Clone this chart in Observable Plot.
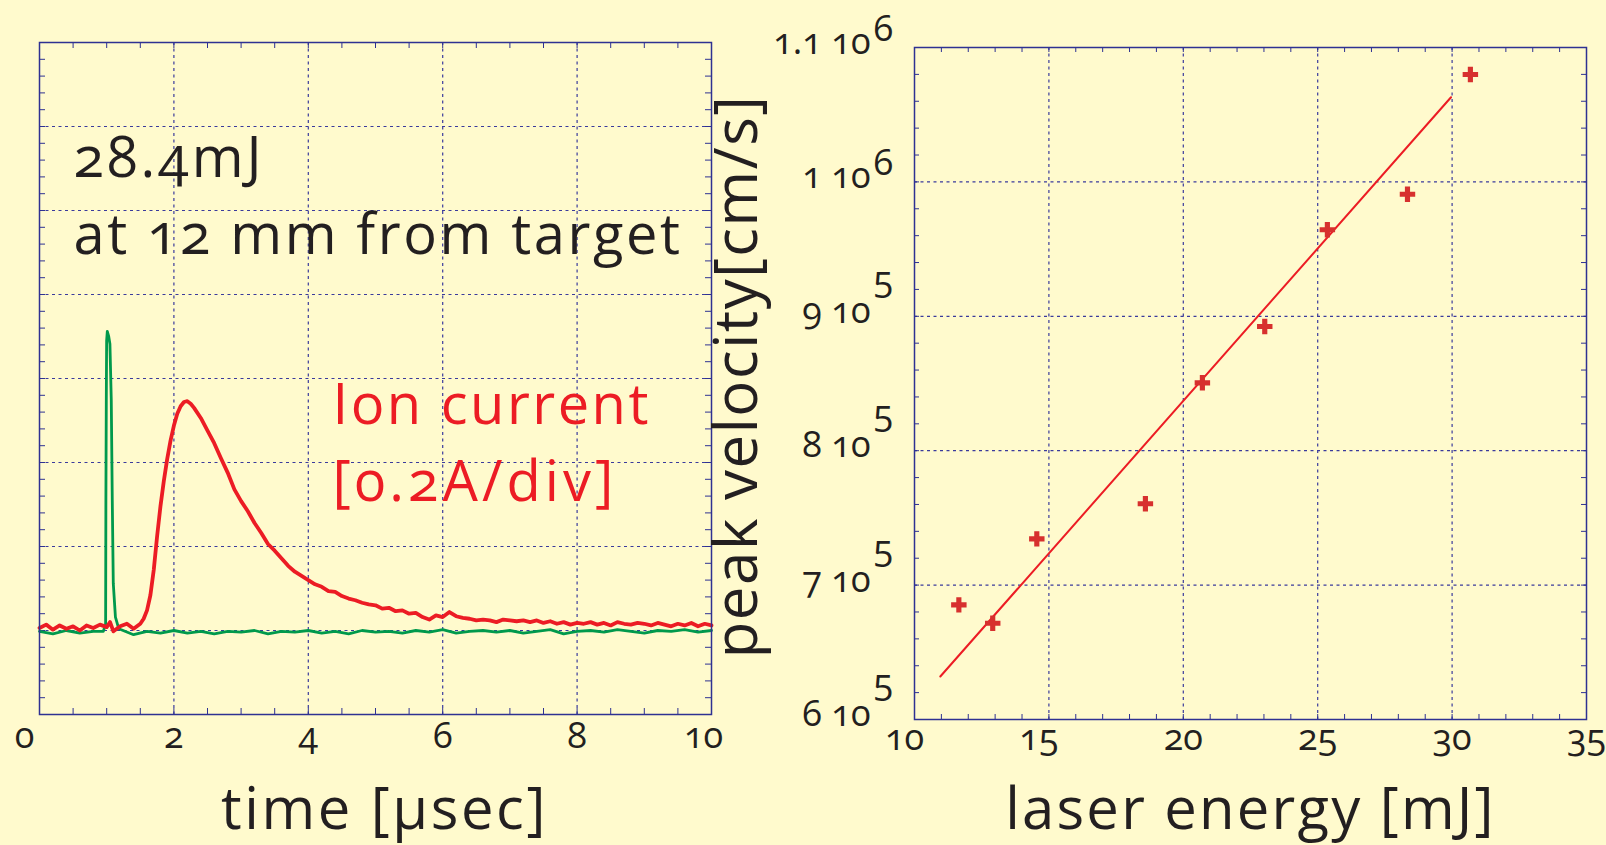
<!DOCTYPE html>
<html>
<head>
<meta charset="utf-8">
<script src="https://cdn.jsdelivr.net/npm/d3@7"></script>
<script src="https://cdn.jsdelivr.net/npm/@observablehq/plot@0.6"></script>
<style>
  html, body { margin: 0; padding: 0; background: #fffacd; }
  #wrap { position: relative; width: 1606px; height: 845px; overflow: hidden; background: #fffacd; }
  #wrap svg { position: absolute; top: 0; overflow: visible; }
</style>
</head>
<body>
<div id="wrap"></div>
<script>
// ---------- data: left panel (oscilloscope traces, in vertical divisions) ----------
const ionTime = [0.0,0.1,0.2,0.3,0.4,0.5,0.6,0.7,0.8,0.9,1.0,1.05,1.1,1.2,1.3,1.4,1.5,
  1.55,1.6,1.65,1.7,1.75,1.8,1.85,1.9,1.95,2.0,2.05,2.1,2.15,2.2,2.25,2.3,2.4,2.5,2.6,2.7,2.8,2.9,
  3.0,3.1,3.2,3.3,3.4,3.5,3.6,3.7,3.8,3.9,
  4.0,4.1,4.2,4.3,4.4,4.5,4.6,4.7,4.8,4.9,5.0,5.1,5.2,5.3,5.4,5.5,5.6,5.7,5.8,5.9,
  6.0,6.1,6.2,6.3,6.4,6.5,6.6,6.7,6.8,6.9,7.0,7.1,7.2,7.3,7.4,7.5,7.6,7.7,7.8,7.9,
  8.0,8.1,8.2,8.3,8.4,8.5,8.6,8.7,8.8,8.9,9.0,9.1,9.2,9.3,9.4,9.5,9.6,9.7,9.8,9.9,10.0];
const ionSignal = [1.03,1.07,1.01,1.06,1.02,1.05,1.00,1.06,1.03,1.07,1.04,1.10,0.99,1.05,1.08,1.02,1.08,
  1.14,1.24,1.42,1.72,2.12,2.48,2.78,3.04,3.26,3.44,3.58,3.67,3.72,3.73,3.70,3.65,3.53,3.38,3.23,3.05,2.88,2.68,
  2.54,2.42,2.28,2.16,2.03,1.95,1.86,1.77,1.70,1.65,
  1.60,1.55,1.52,1.47,1.46,1.41,1.38,1.36,1.33,1.31,1.30,1.26,1.27,1.23,1.24,1.20,1.21,1.16,1.13,1.18,
  1.16,1.22,1.17,1.15,1.14,1.12,1.13,1.12,1.10,1.13,1.12,1.11,1.12,1.10,1.12,1.09,1.11,1.08,1.10,1.07,
  1.09,1.08,1.10,1.07,1.09,1.06,1.10,1.08,1.07,1.09,1.08,1.06,1.09,1.07,1.05,1.08,1.06,1.09,1.05,1.08,1.06];
const laserTime = [0.0,0.2,0.4,0.6,0.8,0.95,0.984,0.988,0.994,0.999,1.009,1.03,1.048,1.068,1.083,1.098,1.13,1.18,
  1.4,1.6,1.8,2.0,2.2,2.4,2.6,2.8,3.0,3.2,3.4,3.6,3.8,4.0,4.2,4.4,4.6,4.8,5.0,5.2,5.4,5.6,5.8,6.0,
  6.2,6.4,6.6,6.8,7.0,7.2,7.4,7.6,7.8,8.0,8.2,8.4,8.6,8.8,9.0,9.2,9.4,9.6,9.8,10.0];
const laserSignal = [0.99,0.96,1.00,0.97,0.99,0.99,1.08,2.55,3.74,4.45,4.56,4.50,4.41,3.74,2.55,1.56,1.16,1.02,
  0.95,0.99,0.97,1.00,0.97,0.99,0.96,0.99,0.98,1.00,0.96,0.99,0.98,1.00,0.97,0.99,0.96,1.00,0.98,0.99,0.97,1.00,0.98,1.01,
  0.97,0.99,1.00,0.98,1.00,0.97,0.99,1.01,0.96,0.99,1.00,0.98,1.01,0.99,0.97,1.00,0.99,1.01,0.98,1.00];
const timeTicks = [0, 2, 4, 6, 8, 10];
const divisionLines = [1, 2, 3, 4, 5, 6, 7];

// ---------- data: right panel (peak velocity vs laser energy) ----------
const energyMJ = [11.65, 12.91, 14.55, 18.59, 20.71, 23.03, 25.36, 28.34, 30.68];
const peakVelocity = [685300, 671600, 734400, 760500, 850500, 892400, 964400, 990800, 1079900];
const fitEnergy = [10.96, 29.96];
const fitVelocity = [632000, 1063000];
const energyTicks = [10, 15, 20, 25, 30, 35];
const velocityTicks = [600000, 700000, 800000, 900000, 1000000, 1100000];
const velocityMantissa = ["6 10", "7 10", "8 10", "9 10", "1 10", "1.1 10"];
const velocityExponent = ["5", "5", "5", "5", "6", "6"];

// ---------- styling ----------
const BLUE = "#2e3192";
const GRID = "#3a3a9c";
const INK = "#231f20";
const RED = "#ec1c24";
const GREEN = "#00994c";
const FONT = "'Open Sans', 'Noto Sans', sans-serif";
const FRAME = 672;
const TICK = 6;
const dotted = {stroke: GRID, strokeWidth: 1.2, strokeDasharray: "3,3.5"};
const tickText = {fontSize: 36, fill: INK, fontVariant: "oldstyle-nums"};
const bigText = {text: d => d, frameAnchor: "top-left", textAnchor: "start", lineAnchor: "bottom", fontSize: 56};

const leftPlot = Plot.plot({
  width: 712, height: 845,
  marginLeft: 39, marginRight: 1, marginTop: 42, marginBottom: 131,
  style: {background: "transparent", fontFamily: FONT, color: INK, overflow: "visible"},
  x: {domain: [0, 10]},
  y: {domain: [0, 8], axis: null},
  marks: [
    Plot.ruleX(timeTicks.slice(1, -1), dotted),
    Plot.ruleY(divisionLines, dotted),
    Plot.tickX(d3.range(0, 10.001, 0.5), {x: d => d, stroke: BLUE, insetTop: FRAME - TICK}),
    Plot.tickX(d3.range(0, 10.001, 0.5), {x: d => d, stroke: BLUE, insetBottom: FRAME - TICK}),
    Plot.tickY(d3.range(0, 8.001, 0.2), {y: d => d, stroke: BLUE, insetRight: FRAME - TICK}),
    Plot.tickY(d3.range(0, 8.001, 0.2), {y: d => d, stroke: BLUE, insetLeft: FRAME - TICK}),
    Plot.line(laserTime, {x: d => d, y: (d, i) => laserSignal[i], stroke: GREEN, strokeWidth: 2.8}),
    Plot.line(ionTime, {x: d => d, y: (d, i) => ionSignal[i], stroke: RED, strokeWidth: 3.8}),
    Plot.frame({stroke: BLUE, strokeWidth: 1.5}),
    Plot.axisX(timeTicks.slice(1, -1), {tickSize: 0, tickPadding: 8, label: null, ...tickText}),
    Plot.text(timeTicks.slice(0, 1), {x: d => d, frameAnchor: "bottom", lineAnchor: "top", dx: -15, dy: 8, ...tickText}),
    Plot.text(timeTicks.slice(-1), {x: d => d, frameAnchor: "bottom", lineAnchor: "top", dx: -8, dy: 8, ...tickText}),
    Plot.text(["28.4mJ"], {...bigText, dx: 34, dy: 134, fill: INK, fontVariant: "oldstyle-nums"}),
    Plot.text(["at 12 mm from target"], {...bigText, dx: 34, dy: 211, fill: INK, fontVariant: "oldstyle-nums"}),
    Plot.text(["Ion current"], {...bigText, dx: 293, dy: 381, fill: RED}),
    Plot.text(["[0.2A/div]"], {...bigText, dx: 293, dy: 458, fill: RED, fontVariant: "oldstyle-nums"}),
    Plot.text(["time [µsec]"], {frameAnchor: "bottom", text: d => d, textAnchor: "middle", lineAnchor: "bottom", dx: 9, dy: 114, fontSize: 58, fill: INK})
  ]
});

const rightPlot = Plot.plot({
  width: 894, height: 845,
  marginLeft: 202, marginRight: 20, marginTop: 47, marginBottom: 126,
  style: {background: "transparent", fontFamily: FONT, color: INK, overflow: "visible"},
  x: {domain: [10, 35]},
  y: {domain: [600000, 1100000], axis: null},
  marks: [
    Plot.ruleX(energyTicks.slice(1, -1), dotted),
    Plot.ruleY(velocityTicks.slice(1, -1), dotted),
    Plot.tickX(d3.range(10, 35.001, 1), {x: d => d, stroke: BLUE, insetTop: FRAME - 5}),
    Plot.tickX(d3.range(10, 35.001, 1), {x: d => d, stroke: BLUE, insetBottom: FRAME - 5}),
    Plot.tickY(d3.range(600000, 1100001, 20000), {y: d => d, stroke: BLUE, insetRight: FRAME - 5}),
    Plot.tickY(d3.range(600000, 1100001, 20000), {y: d => d, stroke: BLUE, insetLeft: FRAME - 5}),
    Plot.line(fitEnergy, {x: d => d, y: (d, i) => fitVelocity[i], stroke: RED, strokeWidth: 2}),
    Plot.dot(energyMJ, {x: d => d, y: (d, i) => peakVelocity[i], symbol: "cross", r: 6.5, fill: "#d7302e", stroke: "none"}),
    Plot.frame({stroke: BLUE, strokeWidth: 1.5}),
    Plot.axisX(energyTicks.slice(2), {tickSize: 0, tickPadding: 5, label: null, ...tickText}),
    Plot.text(energyTicks.slice(0, 2), {x: d => d, frameAnchor: "bottom", lineAnchor: "top", dx: -10, dy: 5, ...tickText}),
    Plot.text(velocityTicks, {frameAnchor: "left", y: d => d, text: (d, i) => velocityMantissa[i], textAnchor: "end", lineAnchor: "middle", dx: -44, dy: -5, ...tickText}),
    Plot.text(velocityTicks, {filter: (d, i) => velocityExponent[i] === "5", frameAnchor: "left", y: d => d, text: (d, i) => velocityExponent[i], textAnchor: "start", lineAnchor: "middle", dx: -41, dy: -36, ...tickText}),
    Plot.text(velocityTicks, {filter: (d, i) => velocityExponent[i] === "6", frameAnchor: "left", y: d => d, text: (d, i) => velocityExponent[i], textAnchor: "start", lineAnchor: "middle", dx: -41, dy: -18, ...tickText}),
    Plot.text(["laser energy [mJ]"], {frameAnchor: "bottom", text: d => d, textAnchor: "middle", lineAnchor: "bottom", dy: 109, fontSize: 58, fill: INK}),
    Plot.text(["peak velocity[cm/s]"], {frameAnchor: "left", text: d => d, rotate: -90, textAnchor: "middle", lineAnchor: "bottom", dx: -158, dy: -7, fontSize: 60, fill: INK})
  ]
});

leftPlot.style.left = "0px";
rightPlot.style.left = "712px";
document.getElementById("wrap").append(leftPlot, rightPlot);

// letter spacing of the large texts (the reference typeface sets them wider)
const letterSpacing = {
  "28.4mJ": 3, "at 12 mm from target": 2.6, "Ion current": 2.5, "[0.2A/div]": 4,
  "time [µsec]": 2.6, "laser energy [mJ]": 2.2, "peak velocity[cm/s]": 1.5
};
for (const t of document.querySelectorAll("#wrap text")) {
  const s = letterSpacing[t.textContent];
  if (s) t.style.letterSpacing = s + "px";
}
</script>
</body>
</html>
